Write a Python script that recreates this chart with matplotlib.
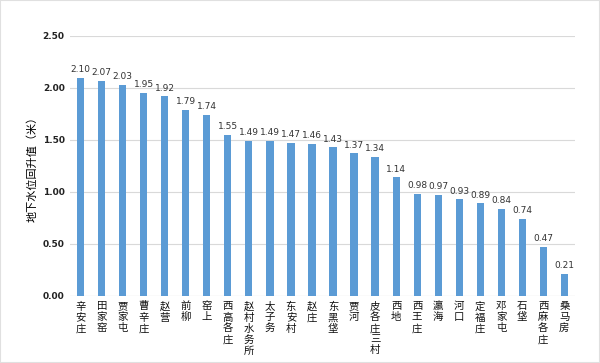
import numpy as np
import matplotlib.pyplot as plt

plt.rcParams['font.family'] = ['Noto Sans CJK SC', 'DejaVu Sans']

sites = ['辛安庄', '田家窑', '贾家屯', '曹辛庄', '赵营', '前柳', '窑上', '西高各庄',
         '赵村水务所', '太子务', '东安村', '赵庄', '东黑垡', '贾河', '皮各庄三村',
         '西地', '西王庄', '瀛海', '河口', '定福庄', '邓家屯', '石垡', '西麻各庄', '桑马房']
rise = [2.10, 2.07, 2.03, 1.95, 1.92, 1.79, 1.74, 1.55, 1.49, 1.49, 1.47, 1.46,
        1.43, 1.37, 1.34, 1.14, 0.98, 0.97, 0.93, 0.89, 0.84, 0.74, 0.47, 0.21]
yticks = [0.0, 0.5, 1.0, 1.5, 2.0, 2.5]

fig = plt.figure(figsize=(6, 3.63), dpi=100)
fig.patch.set_facecolor('white')
ax = fig.add_axes([0.117, 0.185, 0.841, 0.716])

x = np.arange(len(sites))
ax.bar(x, rise, width=0.34, color='#5B9BD5', zorder=3)
for xi, v in zip(x, rise):
    ax.text(xi, v + 0.035, '%.2f' % v, ha='center', va='bottom', fontsize=6.5,
            color='#333333', family='DejaVu Sans')

ax.set_xlim(-0.5, len(sites) - 0.5)
ax.set_ylim(0, 2.5)
ax.set_yticks(yticks)
ax.set_yticklabels(['%.2f' % t for t in yticks], fontsize=6.5, fontweight='bold',
                   family='DejaVu Sans', color='#222222')
ax.set_xticks(x)
ax.set_xticklabels(['\n'.join(s) for s in sites], fontsize=7.5, va='top',
                   linespacing=1.12, color='#111111')
ax.tick_params(axis='both', length=0, pad=4)
ax.tick_params(axis='x', pad=4)
ax.grid(axis='y', color='#d9d9d9', linewidth=0.8, zorder=0)
for s in ax.spines.values():
    s.set_visible(False)
ax.axhline(0, color='#d9d9d9', linewidth=0.8, zorder=1)
ax.set_ylabel('地下水位回升值（米）', fontsize=8)
ax.yaxis.set_label_coords(-0.064, 0.5)

fig.patches.append(plt.Rectangle((0, 0), 1, 1, transform=fig.transFigure,
                                 fill=False, edgecolor='#e0e0e0', linewidth=1.5))
fig.savefig('out.png', dpi=100)
